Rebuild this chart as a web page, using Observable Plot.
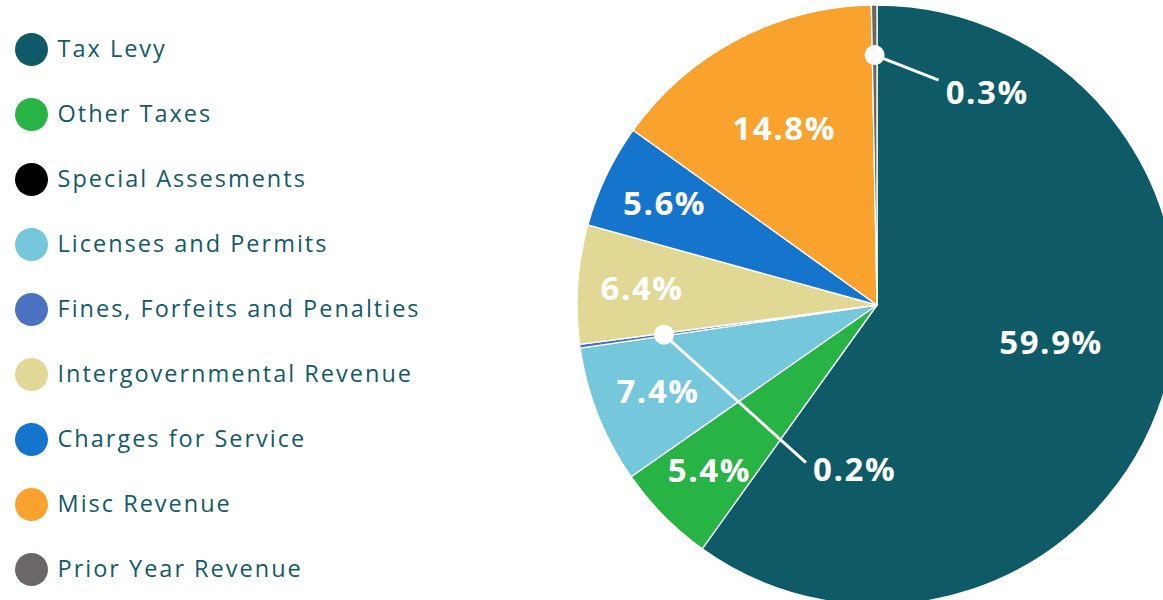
<!DOCTYPE html>
<html><head><meta charset="utf-8">
<script src="https://cdn.jsdelivr.net/npm/d3@7"></script>
<script src="https://cdn.jsdelivr.net/npm/@observablehq/plot@0.6"></script>
<style>body{margin:0;background:#fff;overflow:hidden}#chart svg{display:block}
#chart g[aria-label="text"]{letter-spacing:2px}</style>
</head><body><div id="chart"></div>
<script>
// ---- data ----
const categories = ["Tax Levy","Other Taxes","Special Assesments","Licenses and Permits","Fines, Forfeits and Penalties","Intergovernmental Revenue","Charges for Service","Misc Revenue","Prior Year Revenue"];
const shares = [59.9, 5.4, 0, 7.4, 0.2, 6.4, 5.6, 14.8, 0.3];
const colors = ["#0f5a67","#28b444","#000000","#75c7dc","#4a72c0","#e1d895","#1574cc","#f9a22d","#6b6767"];
const labels = ["59.9%","5.4%","","7.4%","0.2%","6.4%","5.6%","14.8%","0.3%"];

// ---- layout ----
const W = 1163, H = 600;
const cx = 877, cy = 305, R = 300;
const textColor = "#125a69";
const font = "'Open Sans', sans-serif";
const labelNudge = {"Tax Levy": [-3, -19]};
const callouts = {
  "Fines, Forfeits and Penalties": {r: 0.717, dx: 142, dy: 128, tdx: 7, tdy: 7},
  "Prior Year Revenue": {r: 0.833, dx: 64, dy: 25, tdx: 7, tdy: 12}
};

const data = categories.map((c, i) => ({category: c, share: shares[i], label: labels[i]}));

function pieMark(index, scales) {
  const color = (scales && scales.color) || d3.scaleOrdinal(categories, colors);
  const g = d3.create("svg:g").attr("transform", `translate(${cx},${cy})`);
  const arcs = d3.pie().sort(null).value(d => d.share)(data);
  const arc = d3.arc().innerRadius(0).outerRadius(R);
  g.append("g").selectAll("path")
    .data(arcs.filter(a => a.data.share > 0))
    .join("path")
    .attr("d", arc)
    .attr("fill", a => color(a.data.category))
    .attr("stroke", "#fff")
    .attr("stroke-width", 1.3)
    .attr("stroke-linejoin", "round");
  const lab = g.append("g")
    .attr("font-family", font).attr("font-weight", 700)
    .attr("font-size", 33).attr("fill", "#fff")
    .attr("letter-spacing", "1.6px");
  for (const a of arcs) {
    if (!a.data.label) continue;
    const mid = (a.startAngle + a.endAngle) / 2;
    const co = callouts[a.data.category];
    if (co) {
      const px = Math.sin(mid) * R * co.r, py = -Math.cos(mid) * R * co.r;
      lab.append("line").attr("x1", px).attr("y1", py)
        .attr("x2", px + co.dx).attr("y2", py + co.dy)
        .attr("stroke", "#fff").attr("stroke-width", 3);
      lab.append("circle").attr("cx", px).attr("cy", py).attr("r", 10).attr("fill", "#fff");
      lab.append("text").attr("x", px + co.dx + co.tdx).attr("y", py + co.dy + co.tdy)
        .attr("dy", "0.35em").attr("text-anchor", "start").text(a.data.label);
    } else {
      const f = a.data.share >= 50 ? 0.62 : a.data.share >= 10 ? 0.665 : 0.785;
      const n = labelNudge[a.data.category] || [0, 0];
      const px = Math.sin(mid) * R * f + n[0], py = -Math.cos(mid) * R * f + n[1];
      lab.append("text").attr("x", px).attr("y", py)
        .attr("dy", "0.35em").attr("text-anchor", "middle").text(a.data.label);
    }
  }
  return g.node();
}

const chart = Plot.plot({
  width: W, height: H,
  margin: 0,
  style: {fontFamily: font, background: "#fff"},
  y: {type: "point", domain: categories, range: [48, 569], padding: 0, axis: null},
  color: {domain: categories, range: colors},
  marks: [
    pieMark,
    Plot.dot(categories, {y: d => d, fill: d => d, r: 16.5, frameAnchor: "left", dx: 31}),
    Plot.text(categories, {y: d => d, text: d => d, frameAnchor: "left", dx: 57, textAnchor: "start",
      fill: textColor, fontSize: 23.5, fontFamily: font})
  ]
});
document.getElementById("chart").appendChild(chart);
</script>
</body></html>
